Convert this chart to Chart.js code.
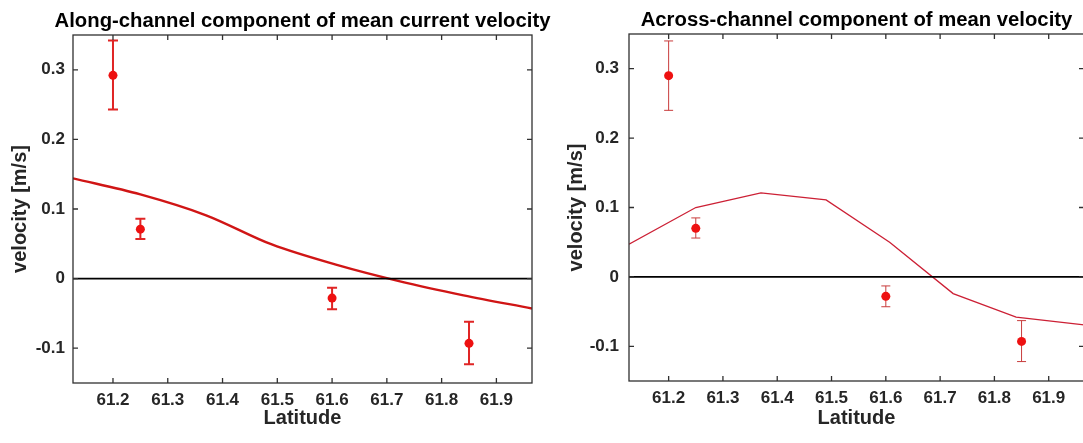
<!DOCTYPE html>
<html>
<head>
<meta charset="utf-8">
<script src="https://cdn.jsdelivr.net/npm/chart.js@4.4.1/dist/chart.umd.min.js"></script>
<style>
  html, body { margin: 0; padding: 0; background: #fff; overflow: hidden; }
  body { width: 1083px; height: 443px; position: relative; }
  canvas { position: absolute; top: 0; }
  #along { left: 0; }
  #across { left: 556px; }
</style>
</head>
<body>
<canvas id="along" width="565" height="443"></canvas>
<canvas id="across" width="540" height="443"></canvas>
<script>
// observed mean velocity at the four stations, with error bar ends
const obsLat = [61.2, 61.25, 61.6, 61.85];
const alongMean = [0.292, 0.071, -0.028, -0.093];
const alongLow = [0.243, 0.057, -0.044, -0.123];
const alongHigh = [0.342, 0.086, -0.013, -0.062];
const acrossMean = [0.290, 0.070, -0.028, -0.093];
const acrossLow = [0.240, 0.056, -0.043, -0.122];
const acrossHigh = [0.340, 0.085, -0.013, -0.063];

// model profile along the section
const modelLat = [61.127, 61.25, 61.37, 61.49, 61.607, 61.724, 61.84, 61.965];
const alongModel = [0.144, 0.121, 0.091, 0.049, 0.020, -0.004, -0.024, -0.043];
const acrossModel = [0.047, 0.100, 0.121, 0.111, 0.050, -0.024, -0.058, -0.069];

// axes
const latTicks = [61.2, 61.3, 61.4, 61.5, 61.6, 61.7, 61.8, 61.9];
const velTicks = [-0.1, 0, 0.1, 0.2, 0.3];
const latRange = [61.127, 61.965];
const velRange = [-0.15, 0.35];

const FONT = "'Liberation Sans', Arial, sans-serif";
Chart.defaults.font.family = FONT;

//error bars drawn under the markers
const errorBars = {
    id: 'errorBars',
    beforeDatasetsDraw(chart, args, opts) {
        const ctx = chart.ctx;
        const x = chart.scales.x;
        const y = chart.scales.y;
        ctx.save();
        ctx.strokeStyle = opts.color;
        ctx.lineWidth = opts.width;
        opts.lat.forEach(function(lat, i) {
            const px = x.getPixelForValue(lat);
            const y1 = y.getPixelForValue(opts.low[i]);
            const y2 = y.getPixelForValue(opts.high[i]);
            ctx.beginPath();
            ctx.moveTo(px, y1); ctx.lineTo(px, y2);
            ctx.moveTo(px - opts.cap, y1); ctx.lineTo(px + opts.cap, y1);
            ctx.moveTo(px - opts.cap, y2); ctx.lineTo(px + opts.cap, y2);
            ctx.stroke();
        });
        ctx.restore();
    }
};

//matlab style box with inward ticks, plus the title centred over the axes
const axesBox = {
    id: 'axesBox',
    afterDraw(chart, args, opts) {
        const ctx = chart.ctx;
        const a = chart.chartArea;
        const x = chart.scales.x;
        const y = chart.scales.y;
        ctx.save();
        ctx.strokeStyle = '#303030';
        ctx.lineWidth = 1.3;
        ctx.strokeRect(a.left, a.top, a.right - a.left, a.bottom - a.top);
        ctx.beginPath();
        latTicks.forEach(function(v) {
            const px = x.getPixelForValue(v);
            ctx.moveTo(px, a.bottom); ctx.lineTo(px, a.bottom - 5);
            ctx.moveTo(px, a.top); ctx.lineTo(px, a.top + 5);
        });
        velTicks.forEach(function(v) {
            const py = y.getPixelForValue(v);
            ctx.moveTo(a.left, py); ctx.lineTo(a.left + 5, py);
            ctx.moveTo(a.right, py); ctx.lineTo(a.right - 5, py);
        });
        ctx.stroke();

        ctx.fillStyle = '#000';
        ctx.font = 'bold 20.3px ' + FONT;
        ctx.textAlign = 'center';
        ctx.textBaseline = 'alphabetic';
        ctx.fillText(opts.text, (a.left + a.right) / 2, a.top - 8);
        ctx.restore();
    }
};

function makePanel(id, title, model, mean, low, high, look) {
    const canvas = document.getElementById(id);
    return new Chart(canvas, {
        type: 'line',
        data: {
            datasets: [
                {
                    data: [{x: latRange[0], y: 0}, {x: latRange[1], y: 0}],
                    borderColor: '#000',
                    borderWidth: 1.6,
                    pointRadius: 0
                },
                {
                    data: modelLat.map((v, i) => ({x: v, y: model[i]})),
                    borderColor: look.lineColor,
                    borderWidth: look.lineWidth,
                    cubicInterpolationMode: look.smooth ? 'monotone' : 'default',
                    tension: 0,
                    pointRadius: 0
                },
                {
                    data: obsLat.map((v, i) => ({x: v, y: mean[i]})),
                    showLine: false,
                    backgroundColor: '#ee1111',
                    borderWidth: 0,
                    pointRadius: look.dot
                }
            ]
        },
        options: {
            responsive: false,
            animation: false,
            layout: { padding: { left: 0, right: look.padRight, top: look.top, bottom: 0 } },
            plugins: {
                legend: { display: false },
                tooltip: { enabled: false },
                title: { display: false },
                axesBox: { text: title },
                errorBars: {
                    lat: obsLat, low: low, high: high,
                    color: look.barColor, width: look.barWidth, cap: look.cap
                }
            },
            scales: {
                x: {
                    type: 'linear',
                    min: latRange[0],
                    max: latRange[1],
                    afterBuildTicks: s => { s.ticks = latTicks.map(v => ({value: v})); },
                    afterFit: s => { s.height = look.xHeight; },
                    grid: { display: false, drawTicks: false },
                    border: { display: false },
                    ticks: {
                        color: '#262626',
                        font: { size: 17, weight: 'bold' },
                        padding: 7,
                        maxRotation: 0,
                        callback: v => v.toFixed(1)
                    },
                    title: {
                        display: true,
                        text: 'Latitude',
                        color: '#262626',
                        font: { size: 20, weight: 'bold' },
                        padding: { top: 0, bottom: 13 }
                    }
                },
                y: {
                    min: velRange[0],
                    max: velRange[1],
                    afterBuildTicks: s => { s.ticks = velTicks.map(v => ({value: v})); },
                    afterFit: s => { s.width = 73; },
                    grid: { display: false, drawTicks: false },
                    border: { display: false },
                    ticks: {
                        color: '#262626',
                        font: { size: 17, weight: 'bold' },
                        padding: look.yPad,
                        callback: v => v === 0 ? '0' : v.toFixed(1)
                    },
                    title: {
                        display: true,
                        text: 'velocity [m/s]',
                        color: '#262626',
                        font: { size: 20, weight: 'bold' },
                        padding: { top: 8, bottom: 0 }
                    }
                }
            }
        },
        plugins: [errorBars, axesBox]
    });
}

makePanel('along', 'Along-channel component of mean current velocity',
    alongModel, alongMean, alongLow, alongHigh,
    { lineColor: '#d01515', lineWidth: 2.4, smooth: true, dot: 4.5,
      barColor: '#e02525', barWidth: 2, cap: 5,
      padRight: 33, top: 35, xHeight: 60, yPad: 8 });

makePanel('across', 'Across-channel component of mean velocity',
    acrossModel, acrossMean, acrossLow, acrossHigh,
    { lineColor: '#cc2035', lineWidth: 1.3, smooth: false, dot: 4.5,
      barColor: '#c83c3c', barWidth: 1, cap: 4.5,
      padRight: 12, top: 34, xHeight: 62, yPad: 10 });
</script>
</body>
</html>
